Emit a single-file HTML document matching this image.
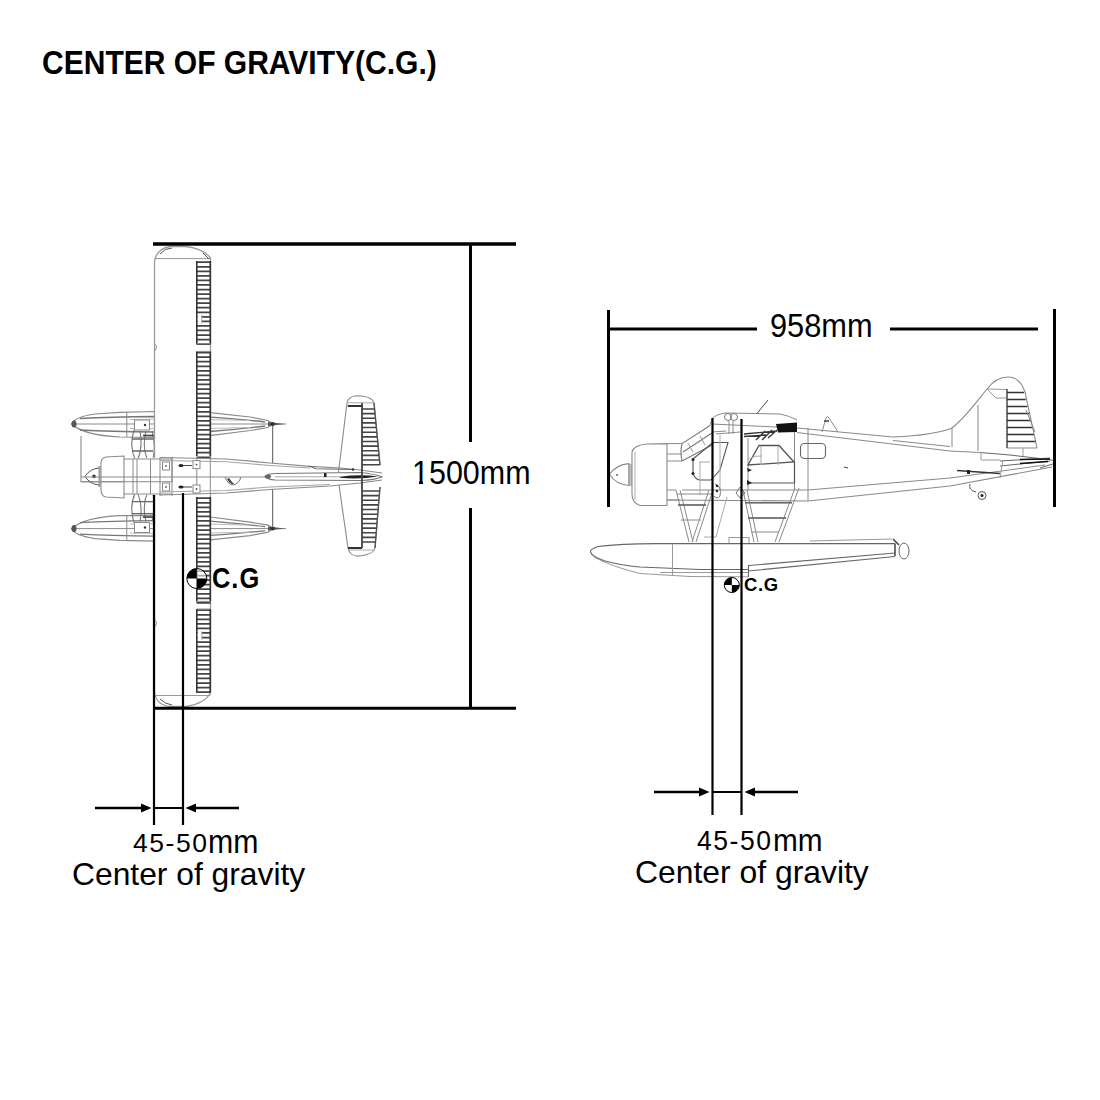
<!DOCTYPE html>
<html><head><meta charset="utf-8">
<style>
html,body{margin:0;padding:0;background:#fff;width:1100px;height:1100px;overflow:hidden;}
body{position:relative;font-family:"Liberation Sans",sans-serif;color:#000;}
.t{position:absolute;white-space:nowrap;line-height:1;transform-origin:0 0;}
svg{position:absolute;left:0;top:0;}
</style></head><body>
<svg width="1100" height="1100" viewBox="0 0 1100 1100" stroke-linecap="butt">
<g id="left">
<path d="M71.5 424 C74 419.0 80 416.0 95 414.0 L120 412.3 L155 411.5 L210 412.7 L250 417.0 L268 420.5 L273 424 L268 427.5 L250 430.5 L210 435.6 L155 437.3 L120 437.0 C100 436.0 80 432.0 71.5 424 Z" stroke="#8a8a8a" stroke-width="1.2" fill="none"/>
<path d="M76 424 H286" stroke="#8a8a8a" stroke-width="1"/>
<path d="M80 418.5 Q110 417.0 155 416.5 L210 417.2 Q240 419.0 265 422.0 M80 430.0 Q110 431.5 155 432.0 L210 431.5 Q240 429.0 265 426.0" stroke="#777" stroke-width="1.3" fill="none"/>
<path d="M130 419.5 Q180 418.5 250 420.5 M130 428.5 Q180 429.5 250 427.5" stroke="#bbb" stroke-width="1" fill="none"/>
<ellipse cx="74" cy="424" rx="2.5" ry="3.5" fill="#555"/>
<path d="M126.8 412.0 V437.0" stroke="#8a8a8a" stroke-width="1"/>
<path d="M268 422 L285 424 L268 426 Z" fill="#555"/>
<circle cx="272.7" cy="424" r="2" fill="#333"/>
<path d="M71.5 528.6 C74 533.6 80 536.6 95 538.6 L120 540.3 L155 541.1 L210 539.9 L250 535.6 L268 532.1 L273 528.6 L268 525.1 L250 522.1 L210 517.0 L155 515.3 L120 515.6 C100 516.6 80 520.6 71.5 528.6 Z" stroke="#8a8a8a" stroke-width="1.2" fill="none"/>
<path d="M76 528.6 H286" stroke="#8a8a8a" stroke-width="1"/>
<path d="M80 534.1 Q110 535.6 155 536.1 L210 535.4 Q240 533.6 265 530.6 M80 522.6 Q110 521.1 155 520.6 L210 521.1 Q240 523.6 265 526.6" stroke="#777" stroke-width="1.3" fill="none"/>
<path d="M130 533.1 Q180 534.1 250 532.1 M130 524.1 Q180 523.1 250 525.1" stroke="#bbb" stroke-width="1" fill="none"/>
<ellipse cx="74" cy="528.6" rx="2.5" ry="3.5" fill="#555"/>
<path d="M126.8 540.6 V515.6" stroke="#8a8a8a" stroke-width="1"/>
<path d="M268 526.6 L285 528.6 L268 530.6 Z" fill="#555"/>
<circle cx="272.7" cy="528.6" r="2" fill="#333"/>
<path d="M272.7 426 V526.6" stroke="#555" stroke-width="1"/>
<rect x="134.5" y="420" width="15" height="10" stroke="#8a8a8a" stroke-width="1" fill="#fff"/>
<circle cx="145" cy="425" r="1.2" fill="#333"/>
<rect x="134.5" y="522.5" width="15" height="10" stroke="#8a8a8a" stroke-width="1" fill="#fff"/>
<circle cx="145" cy="527.5" r="1.2" fill="#333"/>
<path d="M81 436 V481.8 H172 V417.8 H154" stroke="#8a8a8a" stroke-width="1.1" fill="none"/>
<path d="M134 430 Q129 446 135 459 M140 431 Q143 446 138 459 M146 431 Q142 446 147 459 M152 431 Q156 446 153 459" stroke="#777" stroke-width="1.1" fill="none"/>
<path d="M132 439 H153 M132 451 H153" stroke="#666" stroke-width="1.3" fill="none"/>
<path d="M143 435.5 H154" stroke="#444" stroke-width="1.6"/>
<path d="M134 522.6 Q129 506.6 135 493.6 M140 521.6 Q143 506.6 138 493.6 M146 521.6 Q142 506.6 147 493.6 M152 521.6 Q156 506.6 153 493.6" stroke="#777" stroke-width="1.1" fill="none"/>
<path d="M132 513.6 H153 M132 501.6 H153" stroke="#666" stroke-width="1.3" fill="none"/>
<path d="M143 517.1 H154" stroke="#444" stroke-width="1.6"/>
<path d="M154.5 262 Q156 249 170 246.5 L186 246.5 Q204 249 210.5 258 L210.5 693 Q204 704 186 706.5 L170 706.5 Q156 705 154.5 692 Z" stroke="#9a9a9a" stroke-width="1.3" fill="#fff"/>
<path d="M154.5 258.6 H210.5 M154.5 695.5 H210.5" stroke="#999" stroke-width="1"/>
<path d="M160 254 Q165 248 172 248 M203 253 L209 259 M160 699 Q165 704 172 705" stroke="#555" stroke-width="1" fill="none"/>
<path d="M154.5 344 q4 3 0 7 M154.5 620 q4 3 0 7" stroke="#8a8a8a" stroke-width="1" fill="none"/>
<path d="M196.5 262.20H210.5 M196.5 266.75H210.5 M196.5 271.30H210.5 M196.5 275.85H210.5 M196.5 280.40H210.5 M196.5 284.95H210.5 M196.5 289.50H210.5 M196.5 294.05H210.5 M196.5 298.60H210.5 M196.5 303.15H210.5 M196.5 307.70H210.5 M196.5 312.25H210.5 M196.5 316.80H210.5 M196.5 321.35H210.5 M196.5 325.90H210.5 M196.5 330.45H210.5 M196.5 335.00H210.5 M196.5 339.55H210.5 M196.5 344.10H210.5" stroke="#444" stroke-width="1.75" fill="none"/>
<path d="M196.8 261.0 V343.7 M210.3 261.0 V343.7" stroke="#333" stroke-width="1.6"/>
<path d="M196.5 352.60H210.5 M196.5 357.15H210.5 M196.5 361.70H210.5 M196.5 366.25H210.5 M196.5 370.80H210.5 M196.5 375.35H210.5 M196.5 379.90H210.5 M196.5 384.45H210.5 M196.5 389.00H210.5 M196.5 393.55H210.5 M196.5 398.10H210.5 M196.5 402.65H210.5 M196.5 407.20H210.5 M196.5 411.75H210.5 M196.5 416.30H210.5 M196.5 420.85H210.5 M196.5 425.40H210.5 M196.5 429.95H210.5 M196.5 434.50H210.5 M196.5 439.05H210.5 M196.5 443.60H210.5 M196.5 448.15H210.5 M196.5 452.70H210.5 M196.5 457.25H210.5" stroke="#444" stroke-width="1.75" fill="none"/>
<path d="M196.8 351.4 V456.0 M210.3 351.4 V456.0" stroke="#333" stroke-width="1.6"/>
<path d="M196.5 498.20H210.5 M196.5 502.75H210.5 M196.5 507.30H210.5 M196.5 511.85H210.5 M196.5 516.40H210.5 M196.5 520.95H210.5 M196.5 525.50H210.5 M196.5 530.05H210.5 M196.5 534.60H210.5 M196.5 539.15H210.5 M196.5 543.70H210.5 M196.5 548.25H210.5 M196.5 552.80H210.5 M196.5 557.35H210.5 M196.5 561.90H210.5 M196.5 566.45H210.5 M196.5 571.00H210.5 M196.5 575.55H210.5 M196.5 580.10H210.5 M196.5 584.65H210.5 M196.5 589.20H210.5 M196.5 593.75H210.5 M196.5 598.30H210.5 M196.5 602.85H210.5" stroke="#444" stroke-width="1.75" fill="none"/>
<path d="M196.8 497.0 V601.4 M210.3 497.0 V601.4" stroke="#333" stroke-width="1.6"/>
<path d="M196.5 610.20H210.5 M196.5 614.75H210.5 M196.5 619.30H210.5 M196.5 623.85H210.5 M196.5 628.40H210.5 M196.5 632.95H210.5 M196.5 637.50H210.5 M196.5 642.05H210.5 M196.5 646.60H210.5 M196.5 651.15H210.5 M196.5 655.70H210.5 M196.5 660.25H210.5 M196.5 664.80H210.5 M196.5 669.35H210.5 M196.5 673.90H210.5 M196.5 678.45H210.5 M196.5 683.00H210.5 M196.5 687.55H210.5 M196.5 692.10H210.5" stroke="#444" stroke-width="1.75" fill="none"/>
<path d="M196.8 609.0 V692.7 M210.3 609.0 V692.7" stroke="#333" stroke-width="1.6"/>
<path d="M196.8 343.7 H210 M196.8 351.4 H210 M196.8 601.4 H210 M196.8 609 H210" stroke="#8a8a8a" stroke-width="1"/>
<rect x="197.8" y="314.6" width="3.8" height="8.6" fill="#fff"/><rect x="197.8" y="631.2" width="4" height="8.6" fill="#fff"/>
<path d="M201.6 314.6 V323.2 M201.8 631.2 V639.8" stroke="#aaa" stroke-width="1"/>
<path d="M124 459 L160 457.5 L226 459 L270 463 L310 466.6 L355 469 L382 473 L382 480 L355 483 L330 485 L270 489 L226 493 L160 495 L124 494 Z" fill="#fff" stroke="none"/>
<path d="M81 481.8 H172 V457" stroke="#8a8a8a" stroke-width="1.1" fill="none"/>
<path d="M85 476.4 Q90 468.5 99.5 468 V485 Q90 484.5 85 476.4 Z" stroke="#555" stroke-width="1" fill="none"/>
<circle cx="94" cy="476.4" r="1.8" fill="#333"/>
<path d="M101 463 Q101 458 106 457 L124 456 V498 L106 497 Q101 496 101 490 Z" stroke="#8a8a8a" stroke-width="1.1" fill="none"/>
<path d="M99.5 466 V487" stroke="#999" stroke-width="2"/>
<path d="M124 459 H172 M124 494 H172 M133 459 V494 M137 459 V494 M150.5 459 V494 M160 457 V496 M172 457 V496 M196.8 458 V494 M210.3 458 V494" stroke="#8a8a8a" stroke-width="1" fill="none"/>
<path d="M160 457.5 L226 459 L270 463 L310 466.3 L340 468 L360 470 L382 473 M160 495 L226 493 L270 489.5 L330 486 L360 483 L382 480" stroke="#8a8a8a" stroke-width="1.2" fill="none"/>
<path d="M160 460.5 L226 461.8 L270 465.5 L310 468 M160 492 L226 490.5 L270 487 L330 484.5" stroke="#a5a5a5" stroke-width="1.1" fill="none"/>
<path d="M81 477 H265" stroke="#8a8a8a" stroke-width="1"/>
<path d="M265 476.5 Q268 473.5 275 473.5 L360 472.5 Q375 474 382 477 Q375 480 360 480.5 L275 480 Q268 479.5 265 476.5 Z" stroke="#777" stroke-width="1.1" fill="none"/>
<path d="M275 476.8 H340" stroke="#aaa" stroke-width="1"/>
<ellipse cx="268" cy="476.5" rx="3" ry="2" fill="#666"/>
<path d="M340 476.8 Q360 474 378 476.5 Q360 479.5 340 477.8 Z" fill="#222"/>
<path d="M309 466 L316 468.8 L353 469.5" stroke="#666" stroke-width="1.1" fill="none"/><circle cx="353" cy="469.5" r="1.3" fill="#333"/>
<rect x="324" y="473" width="2.5" height="4" fill="#222"/>
<rect x="162.5" y="462" width="7" height="8" stroke="#8a8a8a" stroke-width="1" fill="#fff"/>
<circle cx="166" cy="466" r="0.9" fill="#555"/>
<rect x="162.5" y="483" width="7" height="8" stroke="#8a8a8a" stroke-width="1" fill="#fff"/>
<circle cx="166" cy="487" r="0.9" fill="#555"/>
<rect x="193.0" y="460.6" width="7" height="8" stroke="#8a8a8a" stroke-width="1" fill="#fff"/>
<circle cx="196.5" cy="464.6" r="0.9" fill="#555"/>
<rect x="193.0" y="485" width="7" height="8" stroke="#8a8a8a" stroke-width="1" fill="#fff"/>
<circle cx="196.5" cy="489" r="0.9" fill="#555"/>
<ellipse cx="181" cy="465.5" rx="2.6" ry="1.6" fill="#222"/><path d="M183 465.5 H192" stroke="#444" stroke-width="1"/>
<ellipse cx="181" cy="487" rx="2.6" ry="1.6" fill="#222"/><path d="M183 487 H192" stroke="#444" stroke-width="1"/>
<path d="M225 477 Q228 485 233 485 Q239 484 241 477" stroke="#777" stroke-width="1" fill="none"/><path d="M227 479 Q230 485 234 484 Q231 481 229 478 Z" fill="#444"/>
<path d="M338.5 472 L347 403 Q348 397 356 395.8 Q372 396 374 403 L380 465 M380 487 L375 548 Q374 554 360 556 Q350 557 348 548 L339 485" stroke="#8a8a8a" stroke-width="1.1" fill="none"/>
<path d="M347.5 402.8 H374 M348 550 H375" stroke="#aaa" stroke-width="1"/>
<path d="M347.8 406 H363 M348 548 H362" stroke="#333" stroke-width="1.8"/>
<path d="M362 403 V548" stroke="#444" stroke-width="1.8"/>
<path d="M374 403 L380 465 M380 487 L375 548" stroke="#555" stroke-width="1.4" fill="none"/>
<path d="M362.0 409.00H374.6 M362.0 413.64H375.0 M362.0 418.28H375.5 M362.0 422.92H375.9 M362.0 427.56H376.4 M362.0 432.20H376.8 M362.0 436.84H377.3 M362.0 441.48H377.7 M362.0 446.12H378.2 M362.0 450.76H378.6 M362.0 455.40H379.1 M362.0 460.04H379.5 M362.0 464.68H380.0" stroke="#444" stroke-width="1.6" fill="none"/>
<path d="M362.0 491.00H379.2 M362.0 495.64H378.9 M362.0 500.28H378.5 M362.0 504.92H378.2 M362.0 509.56H377.8 M362.0 514.20H377.5 M362.0 518.84H377.2 M362.0 523.48H376.8 M362.0 528.12H376.5 M362.0 532.76H376.1 M362.0 537.40H375.8 M362.0 542.04H375.4" stroke="#444" stroke-width="1.6" fill="none"/>
</g>
<g id="right">
<path d="M609.5 474.5 Q616 464.5 629 463.6 V485.5 Q616 484.5 609.5 474.5 Z" stroke="#8a8a8a" stroke-width="1.1" fill="#fff"/>
<path d="M629 464 V486 M631 464 V486" stroke="#999" stroke-width="1.2"/>
<circle cx="617" cy="475" r="1" fill="#666"/>
<path d="M632 494 V452 Q634 445 647 444 L667 443.6 V505.5 H640 Q632 503 632 494 Z" stroke="#8a8a8a" stroke-width="1.1" fill="#fff"/>
<path d="M635 452 V500" stroke="#aaa" stroke-width="1"/>
<path d="M667 443.6 H682 M667 454 H682 M667 461 H682 M667 490 H676 M667 500 H680" stroke="#8a8a8a" stroke-width="1" fill="none"/>
<path d="M682 443.6 L710 425.5 M683 452 L712 433 M682 461 L712 445 M682 444 Q680 452 682 461" stroke="#777" stroke-width="1.1" fill="none"/>
<path d="M688 443 L693 452 M700 436 L705 445" stroke="#999" stroke-width="1"/>
<path d="M710 425.5 L712 419 Q716 414 726 413 L780 414 Q790 416 797 420 M712 424 L797 428 M712 432 L726 431" stroke="#8a8a8a" stroke-width="1" fill="none"/>
<path d="M776 424 L797 422.5 L797 432 L778 432.5 Z" fill="#111"/>
<path d="M744 434 L777 431 M744 436.5 L766 435 M756 440 L765 431 M762 440 L772 430 M768 438 L777 430" stroke="#333" stroke-width="1.3" fill="none"/>
<path d="M757 413.5 L768 400" stroke="#444" stroke-width="1"/>
<circle cx="728" cy="417" r="3.5" stroke="#777" stroke-width="1" fill="none"/><circle cx="734" cy="417" r="3.5" stroke="#777" stroke-width="1" fill="none"/>
<path d="M729 421 V434 M733 421 V434 M716 434 L740 432" stroke="#8a8a8a" stroke-width="1" fill="none"/>
<path d="M797 428 L893 437 C915 436 940 433 952 428 C965 418 978 400 987 389 C993 381 1000 377 1008 377 C1016 377 1022 383 1025 392 L1037 448" stroke="#8a8a8a" stroke-width="1.1" fill="none"/>
<path d="M797 432.5 L950 451 L980 452.5 M893 440.5 L950 446.5" stroke="#8a8a8a" stroke-width="1" fill="none"/>
<path d="M987 389 L1007 389.5 M987 389 L996 398 H1007" stroke="#999" stroke-width="1" fill="none"/>
<path d="M952 428 V447 M978 405 V451 M1007 448 H1037" stroke="#8a8a8a" stroke-width="1" fill="none"/>
<path d="M1007 389 V448" stroke="#555" stroke-width="1.6"/>
<path d="M1007.0 392.50H1024.1 M1007.0 399.50H1025.7 M1007.0 406.50H1027.4 M1007.0 413.50H1029.0 M1007.0 420.50H1030.6 M1007.0 427.50H1032.2 M1007.0 434.50H1033.9 M1007.0 441.50H1035.5" stroke="#333" stroke-width="1.3" fill="none"/>
<path d="M1026 410 L1035 432" stroke="#888" stroke-width="1"/>
<path d="M667 500 L808 501 L950 486 L1052 467 M682 490 L808 490 L950 478 L1045 465" stroke="#8a8a8a" stroke-width="1.1" fill="none"/>
<path d="M980 452.5 L1010 455 L1052 460 L1056 463 L1040 468 M1000 461 L1050 458 M1000 466 L1050 461" stroke="#666" stroke-width="1" fill="none"/>
<path d="M1020 459.5 L1050 459 M1020 463.5 L1048 461.5" stroke="#111" stroke-width="1.6"/>
<path d="M981 452 V460 H1000 M1003 460 L1000 478 M1023 448 V456" stroke="#999" stroke-width="1" fill="none"/>
<path d="M957 470.5 L1000 473.5" stroke="#333" stroke-width="1.5"/>
<rect x="967" y="470" width="3" height="4" fill="#222"/>
<path d="M970 484 Q968 490 976 492" stroke="#555" stroke-width="1" fill="none"/>
<circle cx="982" cy="495.5" r="4" stroke="#555" stroke-width="1" fill="#fff"/><circle cx="982" cy="495.5" r="1.5" fill="#222"/>
<path d="M794.5 432 V490 M808 428 V501 M748 438 V490" stroke="#8a8a8a" stroke-width="1" fill="none"/>
<rect x="800.5" y="443.5" width="25" height="15" rx="4" stroke="#666" stroke-width="1.1" fill="none"/>
<path d="M759 445.5 L779 445.5 L794 462 L748 465 Z" stroke="#555" stroke-width="1.3" fill="none"/>
<path d="M761 446 V465 M778 446 V465 M749 459 Q755 455 762 456" stroke="#aaa" stroke-width="1" fill="none"/>
<path d="M749 483 H794.5 M794.5 462 V483" stroke="#555" stroke-width="1.2" fill="none"/>
<path d="M747 468 L752 470 L748 472 Z M747 480 L752 483 L747 485 Z" fill="#222"/>
<path d="M844 467 L848 468" stroke="#444" stroke-width="1"/>
<path d="M822 432 L826 418 Q827 415 829 418 L838 432" stroke="#8a8a8a" stroke-width="1" fill="none"/>
<path d="M824 421 H829" stroke="#444" stroke-width="1.5"/>
<path d="M713 442.5 H728 L720 470 L711 480 M693 459 L713 442.5" stroke="#555" stroke-width="1.1" fill="none"/>
<path d="M693 459 V474 Q696 480 700 480 H711" stroke="#555" stroke-width="1.1" fill="none"/>
<circle cx="693" cy="459.5" r="1.5" fill="#222"/><circle cx="693" cy="473.5" r="1.5" fill="#222"/>
<path d="M700 461 V495 M720 435 V490 M700 462 L710 462" stroke="#aaa" stroke-width="1" fill="none"/>
<path d="M715 484 Q722 486 720 496 Q717 500 714 496 M740 487 L745 493 L740 498 L736 493 Z" stroke="#777" stroke-width="1" fill="none"/>
<circle cx="717" cy="486" r="1.2" fill="#222"/><circle cx="717" cy="491" r="1.2" fill="#222"/>
<path d="M676 490 L689 542 M680 490 L693 542 M709 490 L692 542 M713 490 L696 542 M678 505 H706 M681 520 H701 M677 494 H712" stroke="#8a8a8a" stroke-width="1" fill="none"/>
<path d="M678 505 H706" stroke="#666" stroke-width="1.5"/>
<path d="M727 497 L716 537 M704 537 H716" stroke="#aaa" stroke-width="1" fill="none"/>
<path d="M743 490 L754 542 M747 490 L758 542 M795 488 L775 542 M799 488 L779 542 M745 502.7 H792 M748 518 H786 M751 532 H779" stroke="#8a8a8a" stroke-width="1" fill="none"/>
<path d="M745 502.7 H792 M748 518 H786" stroke="#666" stroke-width="1.4"/>
<rect x="729" y="537.5" width="20" height="6" stroke="#999" stroke-width="1" fill="none"/>
<path d="M657 543.6 L895 543.6 M598 546.5 Q620 543.6 657 543.6" stroke="#666" stroke-width="1.1" fill="none"/>
<path d="M598 546.5 Q590 549 590.5 552 Q592 557 605 561 Q625 566 640 567 L700 569.5 L748 569.4 M748.5 565.5 L895 553 M748.5 571 L895 556.5 M748.5 565 V577" stroke="#666" stroke-width="1.1" fill="none"/>
<path d="M594 557 Q610 566 640 573.5 L690 576.5 L748 576.8 M660 572.5 H748 M810 541 L892 539" stroke="#999" stroke-width="1" fill="none"/>
<path d="M672.5 543.6 V576" stroke="#999" stroke-width="1"/>
<ellipse cx="904" cy="551" rx="5" ry="8" stroke="#666" stroke-width="1" fill="#fff"/>
<path d="M893 539 L899 545 M895 543.6 V556" stroke="#444" stroke-width="1.5" fill="none"/>
</g>
<g id="dims" stroke="#000" fill="none">
  <line x1="153" y1="244" x2="516" y2="244" stroke-width="3.5"/>
  <line x1="153" y1="708.3" x2="516" y2="708.3" stroke-width="3"/>
  <line x1="470.5" y1="244" x2="470.5" y2="442" stroke-width="3"/>
  <line x1="470.5" y1="508" x2="470.5" y2="708" stroke-width="3"/>
  <line x1="154" y1="495" x2="154" y2="825" stroke-width="2.2"/>
  <line x1="183" y1="493" x2="183" y2="825" stroke-width="2.2"/>
  <line x1="95" y1="808" x2="146" y2="808" stroke-width="2.5"/>
  <line x1="154" y1="808" x2="183" y2="808" stroke-width="2"/>
  <line x1="192" y1="808" x2="239" y2="808" stroke-width="2.5"/>
  <line x1="608.5" y1="310" x2="608.5" y2="507" stroke-width="3"/>
  <line x1="1054.5" y1="309" x2="1054.5" y2="507" stroke-width="3"/>
  <line x1="608" y1="329" x2="757" y2="329" stroke-width="3"/>
  <line x1="890" y1="329" x2="1038" y2="329" stroke-width="3"/>
  <line x1="712.5" y1="418" x2="712.5" y2="815" stroke-width="2.2"/>
  <line x1="741.5" y1="419" x2="741.5" y2="815" stroke-width="2.2"/>
  <line x1="654" y1="792" x2="702" y2="792" stroke-width="2.5"/>
  <line x1="712" y1="792" x2="741" y2="792" stroke-width="2"/>
  <line x1="751" y1="792" x2="798" y2="792" stroke-width="2.5"/>
</g>
<g fill="#000" stroke="none">
  <path d="M151.5 808 L141 803.5 L141 812.5 Z"/>
  <path d="M185.5 808 L196 803.5 L196 812.5 Z"/>
  <path d="M709.5 792 L699 787.5 L699 796.5 Z"/>
  <path d="M744.5 792 L755 787.5 L755 796.5 Z"/>
</g>
<g id="cg">
  <circle cx="196.8" cy="578.5" r="10" fill="rgba(255,255,255,0.55)" stroke="#000" stroke-width="1"/>
  <path d="M196.8 578.5 L186.8 578.5 A10 10 0 0 1 196.8 568.5 Z" fill="#000"/>
  <path d="M196.8 578.5 L206.8 578.5 A10 10 0 0 1 196.8 588.5 Z" fill="#000"/>
  <circle cx="731.8" cy="585" r="7.5" fill="rgba(255,255,255,0.55)" stroke="#000" stroke-width="1"/>
  <path d="M731.8 585 L724.3 585 A7.5 7.5 0 0 1 731.8 577.5 Z" fill="#000"/>
  <path d="M731.8 585 L739.3 585 A7.5 7.5 0 0 1 731.8 592.5 Z" fill="#000"/>
</g>
</svg>
<div class="t" style="left:41.83px;top:46.96px;font-size:31px;font-weight:bold;letter-spacing:0px;transform:scale(0.9685,1.0557);">CENTER OF GRAVITY(C.G.)</div>
<div class="t" style="left:412.03px;top:456.09px;font-size:31px;font-weight:normal;letter-spacing:0px;transform:scale(0.9829,1.0652);">1500mm</div>
<div class="t" style="left:769.61px;top:308.88px;font-size:31px;font-weight:normal;letter-spacing:0px;transform:scale(0.9921,1.0741);">958mm</div>
<div class="t" style="left:211.82px;top:563.58px;font-size:26px;font-weight:bold;letter-spacing:1px;transform:scale(0.9783,1.1007);">C.G</div>
<div class="t" style="left:744.21px;top:574.99px;font-size:19px;font-weight:bold;letter-spacing:0.7px;transform:scale(0.9719,1.0027);">C.G</div>
<div class="t" style="left:132.60px;top:829.99px;font-size:26px;font-weight:normal;letter-spacing:1.5px;transform:scale(1.0195,1.0015);">45-50</div>
<div class="t" style="left:208.39px;top:825.90px;font-size:30px;font-weight:normal;letter-spacing:0px;transform:scale(1.0084,1.0758);">mm</div>
<div class="t" style="left:72.01px;top:859.04px;font-size:32px;font-weight:normal;letter-spacing:0px;transform:scale(0.9932,0.9807);">Center of gravity</div>
<div class="t" style="left:696.60px;top:826.49px;font-size:26px;font-weight:normal;letter-spacing:1.5px;transform:scale(1.0195,1.0780);">45-50</div>
<div class="t" style="left:772.80px;top:823.76px;font-size:30px;font-weight:normal;letter-spacing:0px;transform:scale(0.9918,1.0642);">mm</div>
<div class="t" style="left:635.00px;top:855.85px;font-size:32px;font-weight:normal;letter-spacing:0px;transform:scale(0.9957,0.9867);">Center of gravity</div>
<div style="position:absolute;left:413px;top:480.4px;width:6px;height:4px;background:#fff"></div>
<div style="position:absolute;left:423px;top:480.4px;width:6px;height:4px;background:#fff"></div>
</body></html>
